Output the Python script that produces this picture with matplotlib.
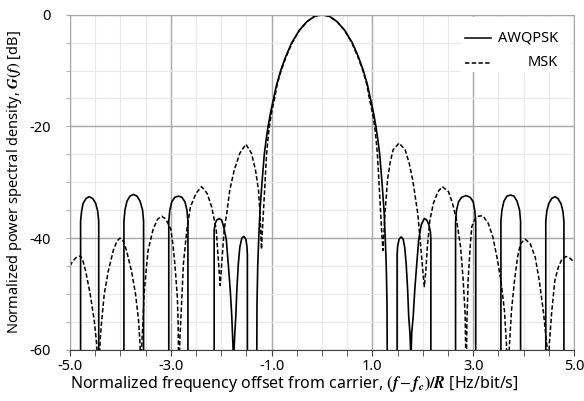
import matplotlib
matplotlib.use("Agg")
import matplotlib.pyplot as plt
from matplotlib.lines import Line2D
from matplotlib.patches import Rectangle
from matplotlib.ticker import MultipleLocator, FixedLocator, FormatStrFormatter

plt.rcParams['font.family'] = ['Noto Sans', 'DejaVu Sans']
plt.rcParams['mathtext.fontset'] = 'stix'
plt.rcParams['axes.unicode_minus'] = False

# AWQPSK spectrum, dB vs normalized offset (values below -60 fall off the plot)
awqpsk_f = [
    -5.00, -4.79, -4.79, -4.77, -4.74, -4.68, -4.62, -4.55, -4.49, -4.45, -4.43, -4.43,
    -3.93, -3.93, -3.91, -3.87, -3.81, -3.74, -3.67, -3.61, -3.56, -3.54, -3.54,
    -3.04, -3.04, -3.02, -2.98, -2.92, -2.85, -2.78, -2.72, -2.68, -2.66, -2.66,
    -2.14, -2.14, -2.12, -2.09, -2.04, -1.99, -1.95, -1.90, -1.86, -1.82, -1.79, -1.755,
    -1.73, -1.71, -1.69, -1.66, -1.63, -1.59, -1.55, -1.51, -1.49, -1.48, -1.48,
    -1.30, -1.29, -1.275, -1.255, -1.23, -1.19, -1.145, -1.11, -1.07, -1.02, -0.96,
    -0.90, -0.82, -0.72, -0.60, -0.45, -0.30, -0.15, 0.00,
    0.15, 0.30, 0.45, 0.60, 0.72, 0.82, 0.90, 0.96, 1.02, 1.07, 1.11, 1.145,
    1.19, 1.23, 1.255, 1.275, 1.29, 1.30,
    1.49, 1.49, 1.50, 1.53, 1.57, 1.61, 1.64, 1.67, 1.70, 1.72, 1.745, 1.765,
    1.78, 1.81, 1.84, 1.88, 1.92, 1.97, 2.03, 2.08, 2.12, 2.15, 2.16, 2.16,
    2.65, 2.65, 2.67, 2.71, 2.77, 2.86, 2.94, 3.00, 3.03, 3.05, 3.05,
    3.55, 3.55, 3.57, 3.61, 3.67, 3.74, 3.81, 3.87, 3.92, 3.94, 3.94,
    4.44, 4.44, 4.46, 4.50, 4.56, 4.62, 4.68, 4.74, 4.78, 4.80, 4.80, 5.00,
]
awqpsk_db = [
    -75, -75, -37, -35.2, -33.8, -32.9, -32.6, -32.9, -33.8, -35.2, -37, -75,
    -75, -37, -35, -33.4, -32.5, -32.2, -32.5, -33.4, -35, -37, -75,
    -75, -37, -35, -33.5, -32.7, -32.5, -32.7, -33.5, -35, -37, -75,
    -75, -38.6, -37.4, -36.8, -36.5, -36.8, -38, -40.2, -44.6, -49.4, -54, -62,
    -57, -54, -49.4, -44.6, -41.6, -40, -39.7, -40.2, -41.5, -43, -75,
    -75, -52, -45, -40, -35, -30, -25, -22.5, -20, -17.5, -15,
    -12.5, -10, -7.5, -5, -2.8, -1.25, -0.3, 0,
    -0.3, -1.25, -2.8, -5, -7.5, -10, -12.5, -15, -17.5, -20, -22.5, -25,
    -30, -35, -40, -45, -52, -75,
    -75, -43, -41.5, -40.2, -39.8, -40.2, -41.6, -44.6, -49.4, -54, -57, -62,
    -57, -54, -49.4, -44.6, -40.2, -37.6, -36.5, -36.8, -37.6, -38.8, -40, -75,
    -75, -37, -35, -33.5, -32.7, -32.4, -32.7, -33.5, -35, -37, -75,
    -75, -37, -35, -33.4, -32.5, -32.3, -32.5, -33.4, -35, -37, -75,
    -75, -37, -35.2, -33.8, -32.9, -32.6, -32.9, -33.8, -35.2, -37, -75, -75,
]

# MSK spectrum
msk_f = [
    -5.00, -4.95, -4.88, -4.79, -4.74, -4.69, -4.60, -4.52, -4.47, -4.44,
    -4.40, -4.37, -4.32, -4.24, -4.14, -4.07, -4.01, -3.94, -3.88, -3.78, -3.70, -3.64, -3.61, -3.60,
    -3.57, -3.55, -3.53, -3.49, -3.45, -3.35, -3.26, -3.18, -3.10, -3.00, -2.96, -2.92, -2.87, -2.855, -2.84,
    -2.82, -2.78, -2.75, -2.68, -2.61, -2.50, -2.39, -2.28, -2.19, -2.10, -2.05, -2.02,
    -1.99, -1.94, -1.89, -1.83, -1.74, -1.63, -1.51, -1.40, -1.32, -1.26, -1.23, -1.21, -1.20,
    -1.185, -1.16, -1.13, -1.10, -1.075, -1.045, -1.00, -0.94, -0.89, -0.81, -0.71, -0.59,
    -0.45, -0.30, -0.15, 0.00,
    0.15, 0.30, 0.45, 0.59, 0.71, 0.81, 0.89, 0.94, 1.00, 1.045, 1.075, 1.10, 1.13, 1.16,
    1.185, 1.21,
    1.25, 1.30, 1.35, 1.41, 1.53, 1.65, 1.73, 1.80, 1.90, 1.96, 2.00, 2.03,
    2.06, 2.09, 2.14, 2.21, 2.30, 2.39, 2.51, 2.59, 2.67, 2.75, 2.80, 2.84, 2.86,
    2.875, 2.90, 2.94, 2.97, 3.04, 3.10, 3.19, 3.30, 3.39, 3.47, 3.55, 3.62, 3.66, 3.68,
    3.72, 3.76, 3.82, 3.88, 3.94, 4.03, 4.13, 4.23, 4.31, 4.39, 4.46, 4.49,
    4.51, 4.56, 4.62, 4.69, 4.76, 4.84, 4.92, 5.00,
]
msk_db = [
    -45.0, -44.2, -43.5, -43.2, -44.2, -45.9, -50.0, -54.7, -59, -66,
    -58, -54.7, -50.0, -45.9, -42.2, -40.6, -40.0, -40.6, -42.2, -45.9, -50.0, -54.7, -59, -66,
    -58, -54.7, -50.0, -45.9, -42.2, -38.4, -36.6, -36.1, -36.6, -38.4, -41, -44.6, -50.6, -55, -66,
    -58, -50.6, -44.6, -38.4, -34.4, -32.0, -30.8, -32.0, -34.4, -38.4, -44.6, -48.5,
    -44.6, -38.4, -35.6, -31.4, -27.8, -24.8, -23.2, -24.8, -27.8, -31.4, -35.6, -40.2, -42.0,
    -39, -35, -30, -25, -22.5, -20, -17.5, -15, -12.5, -10, -7.5, -5,
    -2.8, -1.25, -0.3, 0,
    -0.3, -1.25, -2.8, -5, -7.5, -10, -12.5, -15, -17.5, -20, -22.5, -25, -30, -35,
    -39, -42.2,
    -35.6, -29.6, -26.6, -24.2, -23.0, -24.2, -26.6, -29.6, -35.6, -41.6, -45.9, -48.7,
    -45.9, -41.6, -36.8, -33.8, -31.7, -30.8, -31.7, -33.8, -36.8, -41.6, -47.4, -53.6, -66,
    -55, -47.4, -41.6, -38.0, -36.5, -36.1, -36.0, -37.4, -39.8, -43.4, -47.6, -53.0, -59, -66,
    -59, -53.0, -47.6, -43.4, -41.0, -40.2, -41.0, -43.4, -47.6, -53.0, -59, -66,
    -59, -53.0, -47.6, -45.2, -43.8, -43.3, -43.6, -44.3,
]

x_major = [-5, -3, -1, 1, 3, 5]
y_major = [0, -20, -40, -60]
series_names = ['AWQPSK', 'MSK']

msk_dash = (0, (2.9, 1.5))

fig = plt.figure(figsize=(5.84, 4.01), dpi=100)
ax = fig.add_axes([70 / 584, 1 - 349.7 / 401, 504 / 584, 335 / 401])

ax.plot(awqpsk_f, awqpsk_db, color='black', lw=1.2)
ax.plot(msk_f, msk_db, color='black', lw=1.1, linestyle=msk_dash)

ax.set_xlim(-5, 5)
ax.set_ylim(-60, 0)
ax.xaxis.set_major_locator(FixedLocator(x_major))
ax.xaxis.set_minor_locator(MultipleLocator(0.5))
ax.yaxis.set_major_locator(FixedLocator(y_major))
ax.yaxis.set_minor_locator(MultipleLocator(5))
ax.xaxis.set_major_formatter(FormatStrFormatter('%.1f'))
ax.yaxis.set_major_formatter(FormatStrFormatter('%d'))

ax.grid(True, which='major', color='#a6a6a6', lw=1.0)
ax.grid(True, which='minor', color='#e8e8e8', lw=0.8)
ax.set_axisbelow(True)

for side in ['top', 'right', 'left']:
    ax.spines[side].set_color('#a6a6a6')
ax.spines['bottom'].set_color('#404040')

ax.tick_params(axis='x', which='both', direction='out', length=4, color='#404040',
               labelsize=10.5, pad=3)
ax.tick_params(axis='y', which='both', direction='out', length=3, color='#a6a6a6',
               labelsize=10.5, pad=11)

ax.set_xlabel(r'Normalized frequency offset from carrier, '
              r'$\mathbf{(}\mathbfit{f}-\mathbfit{f}_{\mathbfit{c}}\mathbf{)/}\mathbfit{R}$'
              r' [Hz/bit/s]', fontsize=11.5, va='top')
ax.xaxis.set_label_coords((294 - 70) / 504, -0.072)
ax.set_ylabel(r'Normalized power spectral density, $\mathbfit{G}\mathbf{(}\mathbfit{f}\mathbf{)}$ [dB]',
              fontsize=10.5)
ax.yaxis.set_label_coords(-46 / 504, 0.5)

# legend: white box, sample lines on the left, names flush right
ax.add_patch(Rectangle((0.775, 0.83), 0.218, 0.163, transform=ax.transAxes,
                       facecolor='white', edgecolor='none', zorder=3))
rows = [(0.930, '-'), (0.856, msk_dash)]
for (ypos, style), name in zip(rows, series_names):
    ax.add_line(Line2D([0.784, 0.835], [ypos, ypos], transform=ax.transAxes,
                       color='black', lw=1.1, linestyle=style, zorder=4))
    ax.text(0.968, ypos, name, transform=ax.transAxes, ha='right', va='center',
            fontsize=10.5, zorder=4)

fig.savefig('out.png', dpi=100)
